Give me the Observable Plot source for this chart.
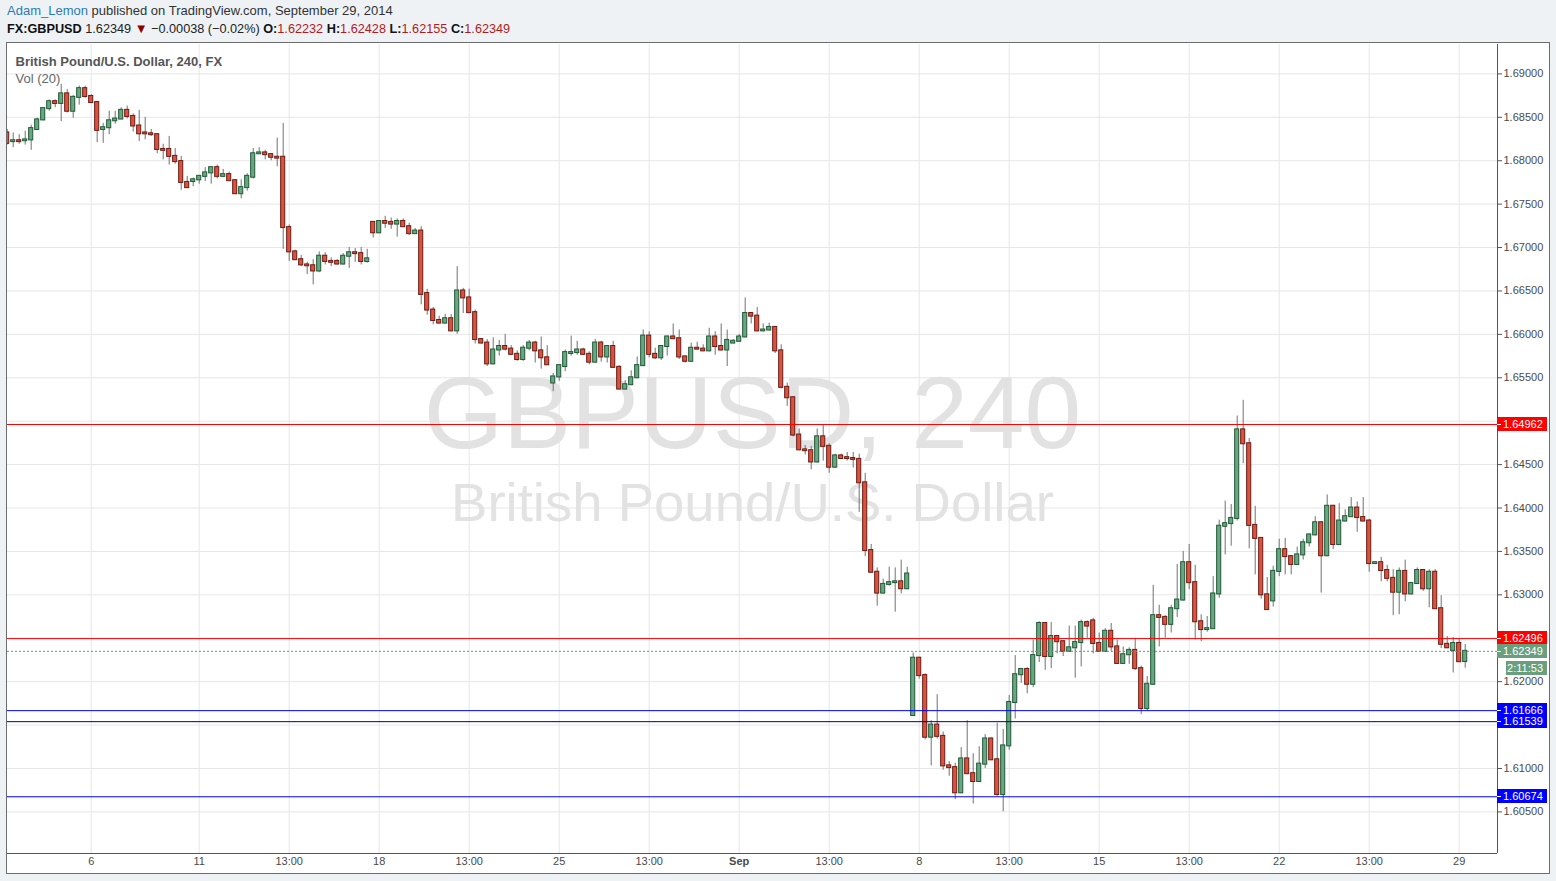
<!DOCTYPE html>
<html>
<head>
<meta charset="utf-8">
<script src="https://cdn.jsdelivr.net/npm/d3@7"></script>
<script src="https://cdn.jsdelivr.net/npm/@observablehq/plot@0.6"></script>
<style>
  html, body { margin: 0; padding: 0; }
  body { width: 1556px; height: 881px; background: #eef2f5; position: relative; overflow: hidden;
         font-family: "Liberation Sans", Arial, sans-serif; }
  #l1 { position: absolute; left: 7px; top: 3px; font-size: 13px; color: #333; white-space: nowrap; }
  #l1 .user { color: #2b7cb8; }
  #l2 { position: absolute; left: 7px; top: 21px; font-size: 12.7px; color: #222; white-space: nowrap; }
  #l2 b { color: #111; }
  #l2 .r { color: #b01c1c; }
  #l2 .tri { color: #8b0000; font-size: 13px; }
  #box { position: absolute; left: 6px; top: 42px; width: 1542px; height: 830px;
         border: 1px solid #6d6d6d; background: #fff; }
  #box svg { display: block; }
</style>
</head>
<body>
<div id="l1"><span class="user">Adam_Lemon</span> published on TradingView.com, September 29, 2014</div>
<div id="l2"><b>FX:GBPUSD</b> 1.62349 <span class="tri">▼</span> −0.00038 (−0.02%) <b>O:</b><span class="r">1.62232</span> <b>H:</b><span class="r">1.62428</span> <b>L:</b><span class="r">1.62155</span> <b>C:</b><span class="r">1.62349</span></div>
<div id="box"></div>
<script>
// ---- Data: GBPUSD 240-minute candles ----
const opens = [
1.6832,1.6822,1.6823,1.6823,1.6824,1.6836,1.6847,1.6860,1.6868,1.6866,
1.6877,1.6857,1.6873,1.6883,1.6874,1.6867,1.6836,1.6838,1.6846,1.6848,
1.6858,1.6851,1.6840,1.6832,1.6831,1.6830,1.6813,1.6813,1.6805,1.6799,
1.6775,1.6776,1.6778,1.6782,1.6786,1.6792,1.6782,1.6784,1.6777,1.6762,
1.6769,1.6781,1.6808,1.6809,1.6807,1.6804,1.6804,1.6723,1.6695,1.6686,
1.6680,1.6679,1.6673,1.6690,1.6684,1.6684,1.6681,1.6690,1.6694,1.6693,
1.6684,1.6729,1.6717,1.6730,1.6729,1.6727,1.6730,1.6724,1.6716,1.6719,
1.6647,1.6628,1.6616,1.6613,1.6618,1.6604,1.6650,1.6642,1.6625,1.6594,
1.6590,1.6566,1.6582,1.6586,1.6583,1.6577,1.6571,1.6584,1.6590,1.6581,
1.6573,1.6544,1.6551,1.6563,1.6578,1.6579,1.6582,1.6577,1.6568,1.6590,
1.6574,1.6586,1.6562,1.6537,1.6542,1.6550,1.6564,1.6598,1.6577,1.6573,
1.6586,1.6597,1.6595,1.6574,1.6569,1.6584,1.6583,1.6581,1.6597,1.6586,
1.6582,1.6590,1.6592,1.6597,1.6624,1.6621,1.6604,1.6605,1.6608,1.6581,
1.6539,1.6527,1.6484,1.6467,1.6466,1.6453,1.6482,1.6471,1.6447,1.6460,
1.6458,1.6457,1.6456,1.6429,1.6351,1.6326,1.6302,1.6312,1.6314,1.6315,
1.6307,1.6161,1.6227,1.6207,1.6136,1.6150,1.6137,1.6103,1.6101,1.6072,
1.6111,1.6094,1.6085,1.6105,1.6134,1.6110,1.6070,1.6126,1.6176,1.6208,
1.6214,1.6197,1.6230,1.6267,1.6229,1.6252,1.6246,1.6235,1.6239,1.6245,
1.6268,1.6270,1.6244,1.6235,1.6258,1.6240,1.6221,1.6231,1.6236,1.6215,
1.6169,1.6197,1.6276,1.6274,1.6266,1.6284,1.6294,1.6337,1.6314,1.6269,
1.6260,1.6261,1.6301,1.6379,1.6382,1.6388,1.6490,1.6474,1.6380,1.6365,
1.6300,1.6293,1.6327,1.6352,1.6344,1.6335,1.6346,1.6360,1.6369,1.6383,
1.6345,1.6402,1.6358,1.6385,1.6390,1.6400,1.6389,1.6385,1.6336,1.6337,
1.6328,1.6319,1.6303,1.6327,1.6301,1.6313,1.6328,1.6307,1.6326,1.6284,
1.6243,1.6236,1.6244,1.62232];
const highs = [
1.6836,1.6832,1.6830,1.6834,1.6841,1.6849,1.6861,1.6870,1.6870,1.6888,
1.6882,1.6875,1.6886,1.6886,1.6876,1.6868,1.6843,1.6857,1.6857,1.6861,
1.6863,1.6854,1.6858,1.6850,1.6836,1.6831,1.6819,1.6828,1.6814,1.6805,
1.6782,1.6780,1.6783,1.6792,1.6793,1.6795,1.6790,1.6787,1.6778,1.6778,
1.6785,1.6814,1.6815,1.6812,1.6808,1.6826,1.6843,1.6726,1.6697,1.6691,
1.6683,1.6686,1.6695,1.6694,1.6688,1.6686,1.6693,1.6700,1.6699,1.6700,
1.6698,1.6730,1.6731,1.6736,1.6734,1.6733,1.6733,1.6728,1.6722,1.6724,
1.6652,1.6631,1.6621,1.6623,1.6623,1.6678,1.6653,1.6652,1.6628,1.6595,
1.6594,1.6596,1.6593,1.6600,1.6587,1.6581,1.6587,1.6593,1.6592,1.6597,
1.6587,1.6555,1.6565,1.6582,1.6598,1.6592,1.6584,1.6580,1.6594,1.6592,
1.6587,1.6592,1.6564,1.6547,1.6558,1.6574,1.6605,1.6603,1.6584,1.6587,
1.6598,1.6612,1.6605,1.6575,1.6590,1.6591,1.6588,1.6607,1.6603,1.6612,
1.6605,1.6594,1.6600,1.6642,1.6625,1.6631,1.6612,1.6613,1.6609,1.6588,
1.6544,1.6528,1.6491,1.6472,1.6471,1.6491,1.6496,1.6474,1.6462,1.6462,
1.6464,1.6464,1.6462,1.6440,1.6358,1.6331,1.6318,1.6332,1.6331,1.6340,
1.6332,1.6233,1.6228,1.6209,1.6155,1.6185,1.6142,1.6108,1.6106,1.6124,
1.6155,1.6117,1.6125,1.6139,1.6135,1.6152,1.6145,1.6184,1.6230,1.6215,
1.6216,1.6248,1.6269,1.6268,1.6268,1.6253,1.6247,1.6264,1.6264,1.6271,
1.6270,1.6273,1.6256,1.6261,1.6267,1.6248,1.6240,1.6239,1.6250,1.6218,
1.6206,1.6311,1.6288,1.6276,1.6288,1.6335,1.6350,1.6358,1.6334,1.6277,
1.6275,1.6321,1.6386,1.6408,1.6404,1.6506,1.6524,1.6480,1.6402,1.6366,
1.6320,1.6333,1.6364,1.6365,1.6345,1.6355,1.6364,1.6370,1.6390,1.6384,
1.6415,1.6403,1.6405,1.6398,1.6412,1.6407,1.6412,1.6387,1.6338,1.6343,
1.6334,1.6329,1.6331,1.6340,1.6314,1.6331,1.6329,1.6329,1.6329,1.6299,
1.6252,1.6251,1.6250,1.62428];
const lows = [
1.6818,1.6815,1.6819,1.6818,1.6812,1.6835,1.6846,1.6857,1.6861,1.6845,
1.6855,1.6849,1.6864,1.6872,1.6866,1.6821,1.6820,1.6830,1.6842,1.6848,
1.6848,1.6833,1.6822,1.6824,1.6828,1.6808,1.6801,1.6795,1.6796,1.6766,
1.6768,1.6770,1.6773,1.6776,1.6773,1.6779,1.6781,1.6776,1.6761,1.6756,
1.6765,1.6779,1.6807,1.6801,1.6800,1.6793,1.6698,1.6684,1.6685,1.6678,
1.6669,1.6657,1.6671,1.6680,1.6678,1.6680,1.6680,1.6676,1.6683,1.6680,
1.6682,1.6711,1.6716,1.6722,1.6721,1.6712,1.6723,1.6714,1.6715,1.6634,
1.6622,1.6611,1.6612,1.6612,1.6603,1.6600,1.6624,1.6624,1.6589,1.6589,
1.6563,1.6565,1.6575,1.6581,1.6576,1.6569,1.6569,1.6581,1.6567,1.6560,
1.6564,1.6534,1.6546,1.6557,1.6575,1.6576,1.6576,1.6565,1.6567,1.6568,
1.6567,1.6561,1.6536,1.6536,1.6541,1.6549,1.6563,1.6573,1.6571,1.6570,
1.6575,1.6594,1.6571,1.6567,1.6568,1.6582,1.6580,1.6580,1.6576,1.6581,
1.6563,1.6589,1.6591,1.6596,1.6612,1.6603,1.6603,1.6604,1.6578,1.6537,
1.6517,1.6482,1.6466,1.6461,1.6444,1.6452,1.6454,1.6440,1.6446,1.6456,
1.6454,1.6446,1.6395,1.6344,1.6325,1.6287,1.6301,1.6310,1.6280,1.6301,
1.6306,1.6160,1.6203,1.6133,1.6103,1.6134,1.6098,1.6091,1.6064,1.6071,
1.6093,1.6059,1.6084,1.6100,1.6109,1.6068,1.6050,1.6121,1.6157,1.6198,
1.6186,1.6193,1.6222,1.6213,1.6215,1.6232,1.6229,1.6234,1.6204,1.6217,
1.6250,1.6232,1.6234,1.6234,1.6235,1.6220,1.6220,1.6220,1.6213,1.6162,
1.6166,1.6196,1.6240,1.6250,1.6256,1.6274,1.6293,1.6306,1.6248,1.6246,
1.6257,1.6260,1.6296,1.6346,1.6356,1.6385,1.6451,1.6353,1.6323,1.6295,
1.6282,1.6286,1.6321,1.6323,1.6323,1.6334,1.6340,1.6355,1.6368,1.6302,
1.6344,1.6352,1.6357,1.6384,1.6389,1.6372,1.6384,1.6326,1.6335,1.6315,
1.6315,1.6276,1.6277,1.6292,1.6300,1.6312,1.6304,1.6285,1.6283,1.6238,
1.6238,1.6210,1.6222,1.62155];
const closes = [
1.6820,1.6823,1.6822,1.6824,1.6837,1.6847,1.6860,1.6868,1.6866,1.6877,
1.6857,1.6873,1.6883,1.6874,1.6867,1.6835,1.6838,1.6846,1.6848,1.6858,
1.6851,1.6840,1.6831,1.6831,1.6830,1.6813,1.6812,1.6805,1.6799,1.6775,
1.6769,1.6778,1.6782,1.6786,1.6792,1.6782,1.6784,1.6777,1.6762,1.6769,
1.6782,1.6808,1.6809,1.6807,1.6804,1.6803,1.6723,1.6695,1.6686,1.6680,
1.6679,1.6673,1.6690,1.6684,1.6683,1.6681,1.6690,1.6694,1.6693,1.6684,
1.6687,1.6717,1.6730,1.6728,1.6727,1.6730,1.6724,1.6716,1.6719,1.6646,
1.6628,1.6616,1.6613,1.6618,1.6604,1.6650,1.6642,1.6625,1.6594,1.6590,
1.6566,1.6582,1.6586,1.6583,1.6577,1.6571,1.6584,1.6590,1.6581,1.6573,
1.6565,1.6551,1.6564,1.6579,1.6579,1.6582,1.6577,1.6568,1.6590,1.6574,
1.6586,1.6562,1.6537,1.6542,1.6550,1.6564,1.6598,1.6577,1.6573,1.6586,
1.6597,1.6595,1.6574,1.6569,1.6584,1.6583,1.6581,1.6597,1.6586,1.6582,
1.6593,1.6592,1.6597,1.6624,1.6621,1.6604,1.6605,1.6608,1.6581,1.6539,
1.6527,1.6484,1.6467,1.6466,1.6453,1.6482,1.6471,1.6447,1.6460,1.6457,
1.6457,1.6456,1.6429,1.6351,1.6326,1.6302,1.6312,1.6314,1.6315,1.6307,
1.6324,1.6227,1.6207,1.6136,1.6150,1.6137,1.6103,1.6101,1.6072,1.6111,
1.6094,1.6085,1.6105,1.6134,1.6110,1.6070,1.6126,1.6176,1.6208,1.6214,
1.6197,1.6230,1.6267,1.6229,1.6252,1.6246,1.6235,1.6239,1.6245,1.6268,
1.6264,1.6244,1.6235,1.6258,1.6240,1.6221,1.6231,1.6236,1.6215,1.6169,
1.6197,1.6276,1.6274,1.6266,1.6284,1.6294,1.6337,1.6314,1.6269,1.6260,
1.6261,1.6301,1.6379,1.6382,1.6388,1.6490,1.6474,1.6380,1.6365,1.6300,
1.6283,1.6327,1.6352,1.6344,1.6335,1.6346,1.6360,1.6369,1.6383,1.6345,
1.6402,1.6358,1.6385,1.6390,1.6400,1.6389,1.6385,1.6336,1.6337,1.6328,
1.6319,1.6303,1.6327,1.6301,1.6313,1.6328,1.6307,1.6326,1.6284,1.6243,
1.6239,1.6244,1.6223,1.62349];

// time-axis labels (bar index of each labelled bar)
const xTickIndex  = [14, 32, 47, 62, 77, 92, 107, 122, 137, 152, 167, 182, 197, 212, 227, 242];
const xTickLabels = ["6","11","13:00","18","13:00","25","13:00","Sep","13:00","8","13:00","15","13:00","22","13:00","29"];
// price-axis ticks (grid) and the ones whose labels are not covered by level tags
const yTicks = [1.605,1.610,1.615,1.620,1.625,1.630,1.635,1.640,1.645,1.650,1.655,1.660,1.665,1.670,1.675,1.680,1.685,1.690];
const yTickLabelled = [1.605,1.610,1.620,1.625,1.630,1.635,1.640,1.645,1.655,1.660,1.665,1.670,1.675,1.680,1.685,1.690];
// horizontal drawn levels
const levelValues = [1.64962, 1.62496, 1.61666, 1.61539, 1.60674];
const levelLineColors = ["#ff0000", "#ff0000", "#0000ff", "#000080", "#0000ff"];
const levelTagColors  = ["#ff0000", "#ff0000", "#0000ff", "#0000ff", "#0000ff"];
const lastPrice = 1.62349;
const countdown = "2:11:53";

// ---- Build chart ----
const candles = opens.map((o, i) => ({i, o, h: highs[i], l: lows[i], c: closes[i]}));
const levels = levelValues.map((v, k) => ({v, color: levelLineColors[k], tag: levelTagColors[k]}));
const ticksX = xTickIndex.map((i, k) => ({i, label: xTickLabels[k]}));
const xDomain = [0.05, 248.383];
const yDomain = [1.600207, 1.693386];
const isUp = d => d.c >= d.o;

const W = 1542, H = 830, MR = 52, MB = 20, MT = 1;
const FONT = "Liberation Sans, Arial, sans-serif";

const chart = Plot.plot({
  width: W, height: H,
  marginLeft: 0, marginRight: MR, marginTop: MT, marginBottom: MB,
  style: {background: "transparent", fontFamily: FONT, overflow: "visible"},
  x: {domain: xDomain, axis: null},
  y: {domain: yDomain, axis: null},
  color: {type: "identity"},
  marks: [
    Plot.gridY(yTicks, {stroke: "#e6e6e6", strokeOpacity: 1}),
    Plot.gridX(xTickIndex, {stroke: "#e6e6e6", strokeOpacity: 1}),
    // watermark
    Plot.text(["GBPUSD, 240"], {text: d => d, frameAnchor: "middle", dy: -34, fontSize: 102, fill: "#e2e2e2", fontFamily: FONT}),
    Plot.text(["British Pound/U.S. Dollar"], {text: d => d, frameAnchor: "middle", dy: 55, fontSize: 54.5, fill: "#e2e2e2", fontFamily: FONT}),
    // legend texts
    Plot.text(["British Pound/U.S. Dollar, 240, FX"], {text: d => d, frameAnchor: "top-left", textAnchor: "start", dx: 8, dy: 12, fontSize: 13, fontWeight: "bold", fill: "#555"}),
    Plot.text(["Vol (20)"], {text: d => d, frameAnchor: "top-left", textAnchor: "start", dx: 8, dy: 29, fontSize: 13, fill: "#666"}),
    // candles
    Plot.ruleX(candles, {x: "i", y1: "l", y2: "h", stroke: "#707070", strokeWidth: 1, clip: true}),
    Plot.rect(candles, {
      x1: d => d.i - 0.34, x2: d => d.i + 0.34,
      y1: d => Math.min(d.o, d.c), y2: d => Math.max(d.o, d.c),
      fill: d => isUp(d) ? "#6aa584" : "#d9533e",
      stroke: d => isUp(d) ? "#1f5a35" : "#6b1b14",
      strokeWidth: 1, insetTop: -0.5, insetBottom: -0.5, clip: true
    }),
    // levels
    Plot.ruleY(levels, {y: "v", stroke: "color", strokeWidth: 1}),
    Plot.ruleY([lastPrice], {stroke: "#5f9a78", strokeDasharray: "2,2", strokeWidth: 1}),
    // axes lines
    Plot.ruleX([xDomain[1]], {stroke: "#555", strokeWidth: 1}),
    Plot.ruleY([yDomain[0]], {stroke: "#555", strokeWidth: 1}),
    Plot.axisY(yTickLabelled, {anchor: "right", tickSize: 4, tickPadding: 2, tickFormat: d => d.toFixed(5),
      fontSize: 11, fill: "#4a4a4a", stroke: "#555"}),
    Plot.text(ticksX.filter(d => d.label !== "Sep"), {x: "i", text: "label", frameAnchor: "bottom", dy: 11, fontSize: 11, fill: "#4a4a4a"}),
    Plot.text(ticksX.filter(d => d.label === "Sep"), {x: "i", text: "label", frameAnchor: "bottom", dy: 11, fontSize: 11, fontWeight: "bold", fill: "#4a4a4a"})
  ]
});

// price labels on the right scale, positioned with the plot's y scale
const ys = chart.scale("y");
const svg = d3.select(chart);
const xr = W - MR;
const tags = levels.map(d => ({v: d.v, bg: d.tag, text: d.v.toFixed(5)}));
tags.push({v: lastPrice, bg: "#6a9f7e", text: lastPrice.toFixed(5)});
const g = svg.append("g").attr("font-family", FONT).attr("font-size", 11).attr("text-anchor", "start");
for (const t of tags) {
  const y = Math.round(ys.apply(t.v));
  g.append("rect").attr("x", xr).attr("y", y - 7).attr("width", 50).attr("height", 14).attr("fill", t.bg);
  g.append("line").attr("x1", xr).attr("x2", xr + 4).attr("y1", y + 0.5).attr("y2", y + 0.5).attr("stroke", "#fff");
  g.append("text").attr("x", xr + 6).attr("y", y).attr("dy", "0.36em").attr("text-anchor", "start").attr("fill", "#fff").text(t.text);
}
{
  const y = Math.round(ys.apply(lastPrice)) + 17;
  g.append("rect").attr("x", xr + 9).attr("y", y - 7).attr("width", 41).attr("height", 14).attr("fill", "#6a9f7e");
  g.append("text").attr("x", xr + 46).attr("y", y).attr("dy", "0.36em").attr("text-anchor", "end").attr("fill", "#fff").text(countdown);
}
document.getElementById("box").appendChild(chart);
</script>
</body>
</html>
